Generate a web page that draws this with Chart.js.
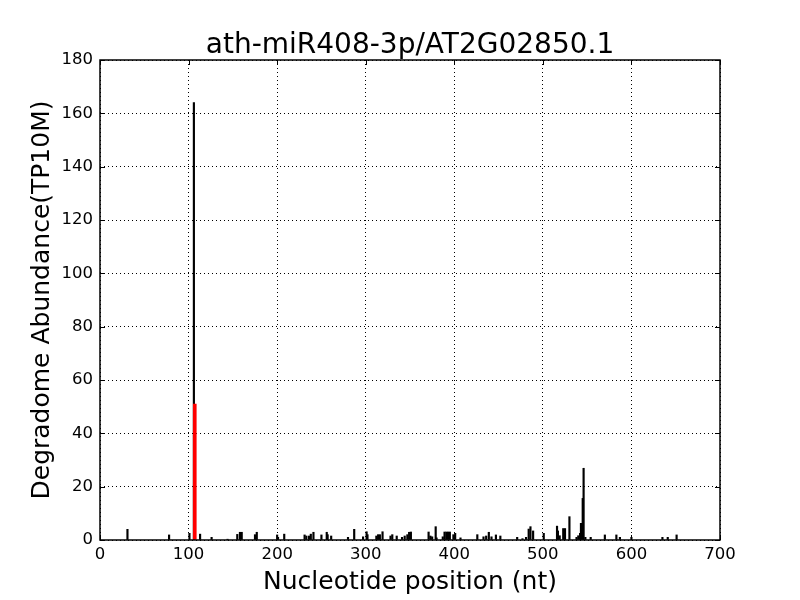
<!DOCTYPE html>
<html>
<head>
<meta charset="utf-8">
<script src="https://cdn.jsdelivr.net/npm/chart.js@4/dist/chart.umd.min.js"></script>
<style>
  html, body { margin: 0; padding: 0; background: #fff; }
  canvas { display: block; }
</style>
</head>
<body>
<canvas id="degradomeChart" width="800" height="600"></canvas>
<script>
// degradome reads along the transcript (black), cleavage site (red)
const positions = [31, 78, 101, 106, 113, 126, 144, 155, 158, 160, 175, 177, 200, 201, 208,
    231, 233, 236, 238, 241, 250, 256, 257, 261, 280, 287, 297, 301, 302, 312, 314, 316, 319,
    328, 330, 335, 341, 344, 347, 349, 351, 371, 373, 375, 379, 380, 387, 389, 391, 393, 395,
    399, 401, 407, 426, 433, 436, 439, 442, 447, 452, 471, 477, 481, 484, 486, 489, 501, 516,
    517, 519, 523, 525, 530, 538, 540, 542, 543, 545, 546, 548, 554, 570, 583, 587, 600, 635,
    641, 651];
const abundances = [4, 1.9, 2.5, 164, 2.2, 1, 0.3, 2.1, 2.9, 2.9, 2, 2.9, 1.9, 1, 2.2,
    1.9, 1.5, 1.5, 2.2, 2.9, 1.9, 2.9, 2, 1.5, 1, 4, 1.2, 3.1, 2, 1.5, 2, 2, 3.1,
    1.5, 2, 1.5, 1, 1.5, 2, 2.9, 3, 3, 1.5, 1.2, 5, 0.8, 1.2, 3, 3, 3, 3,
    2, 2.5, 0.8, 2, 1.2, 1.5, 2.9, 1.2, 1.9, 1.5, 1, 0.5, 1, 4.1, 5, 3.4, 2.5, 5.2,
    3.4, 1.6, 4.3, 4.3, 8.75, 1, 1.6, 2.5, 6.25, 15.6, 26.9, 1, 1, 1.9, 1.9, 1, 1, 1,
    1, 1.9];
const cleavagePos = [107];
const cleavageAbundance = [51];

const xTicks = [0, 100, 200, 300, 400, 500, 600, 700];
const yTicks = [0, 20, 40, 60, 80, 100, 120, 140, 160, 180];
const chartTitle = 'ath-miR408-3p/AT2G02850.1';

const FONT = 'DejaVu Sans';
const TICK_LEN = 5;

// matplotlib style: ticks pointing inward on all four sides + solid frame,
// title centred over the plot area (not the whole canvas)
const frameAndTicks = {
    id: 'frameAndTicks',
    afterDatasetsDraw(chart) {
        const { ctx, chartArea: a, scales } = chart;
        ctx.save();
        ctx.strokeStyle = '#000';
        ctx.lineWidth = 1;
        ctx.beginPath();
        xTicks.forEach(v => {
            const x = Math.round(scales.x.getPixelForValue(v)) + 0.5;
            ctx.moveTo(x, a.bottom); ctx.lineTo(x, a.bottom - TICK_LEN);
            ctx.moveTo(x, a.top); ctx.lineTo(x, a.top + TICK_LEN);
        });
        yTicks.forEach(v => {
            const y = Math.round(scales.y.getPixelForValue(v)) + 0.5;
            ctx.moveTo(a.left, y); ctx.lineTo(a.left + TICK_LEN, y);
            ctx.moveTo(a.right, y); ctx.lineTo(a.right - TICK_LEN, y);
        });
        ctx.stroke();
        ctx.lineWidth = 1.5;
        ctx.strokeRect(a.left, a.top, a.right - a.left, a.bottom - a.top);

        ctx.fillStyle = '#000';
        ctx.font = `28px "${FONT}"`;
        ctx.textAlign = 'center';
        ctx.textBaseline = 'alphabetic';
        ctx.fillText(chartTitle, (a.left + a.right) / 2, 53);
        ctx.restore();
    }
};

const ctx = document.getElementById('degradomeChart').getContext('2d');

new Chart(ctx, {
    type: 'bar',
    data: {
        datasets: [{
            label: 'cleavage',
            data: cleavagePos.map((p, i) => ({ x: p, y: cleavageAbundance[i] })),
            backgroundColor: '#ff0000',
            barThickness: 3,
            order: 0
        }, {
            label: 'reads',
            data: positions.map((p, i) => ({ x: p, y: abundances[i] })),
            backgroundColor: '#000000',
            barThickness: 1.5,
            order: 1
        }]
    },
    plugins: [frameAndTicks],
    options: {
        responsive: false,
        animation: false,
        grouped: false,
        layout: { padding: { left: 0, right: 80, top: 60, bottom: 0 } },
        plugins: {
            legend: { display: false },
            tooltip: { enabled: false },
            title: { display: false }
        },
        scales: {
            x: {
                type: 'linear',
                min: 0,
                max: 700,
                offset: false,
                afterBuildTicks: s => { s.ticks = xTicks.map(v => ({ value: v })); },
                afterFit: s => { s.height = 60; },
                grid: {
                    offset: false,
                    color: '#000',
                    lineWidth: 1,
                    drawTicks: false
                },
                border: { display: false, dash: [1, 3] },
                ticks: {
                    color: '#000',
                    font: { family: FONT, size: 16.5 },
                    padding: 5,
                    maxRotation: 0
                },
                title: {
                    display: true,
                    text: 'Nucleotide position (nt)',
                    color: '#000',
                    font: { family: FONT, size: 25 },
                    padding: { top: 0, bottom: 3 }
                }
            },
            y: {
                min: 0,
                max: 180,
                afterBuildTicks: s => { s.ticks = yTicks.map(v => ({ value: v })); },
                afterFit: s => { s.width = 100; },
                grid: {
                    color: '#000',
                    lineWidth: 1,
                    drawTicks: false
                },
                border: { display: false, dash: [1, 3] },
                ticks: {
                    color: '#000',
                    font: { family: FONT, size: 16.5 },
                    padding: 7
                },
                title: {
                    display: true,
                    text: 'Degradome Abundance(TP10M)',
                    color: '#000',
                    font: { family: FONT, size: 25 },
                    padding: { top: 27, bottom: 0 }
                }
            }
        }
    }
});
</script>
</body>
</html>
